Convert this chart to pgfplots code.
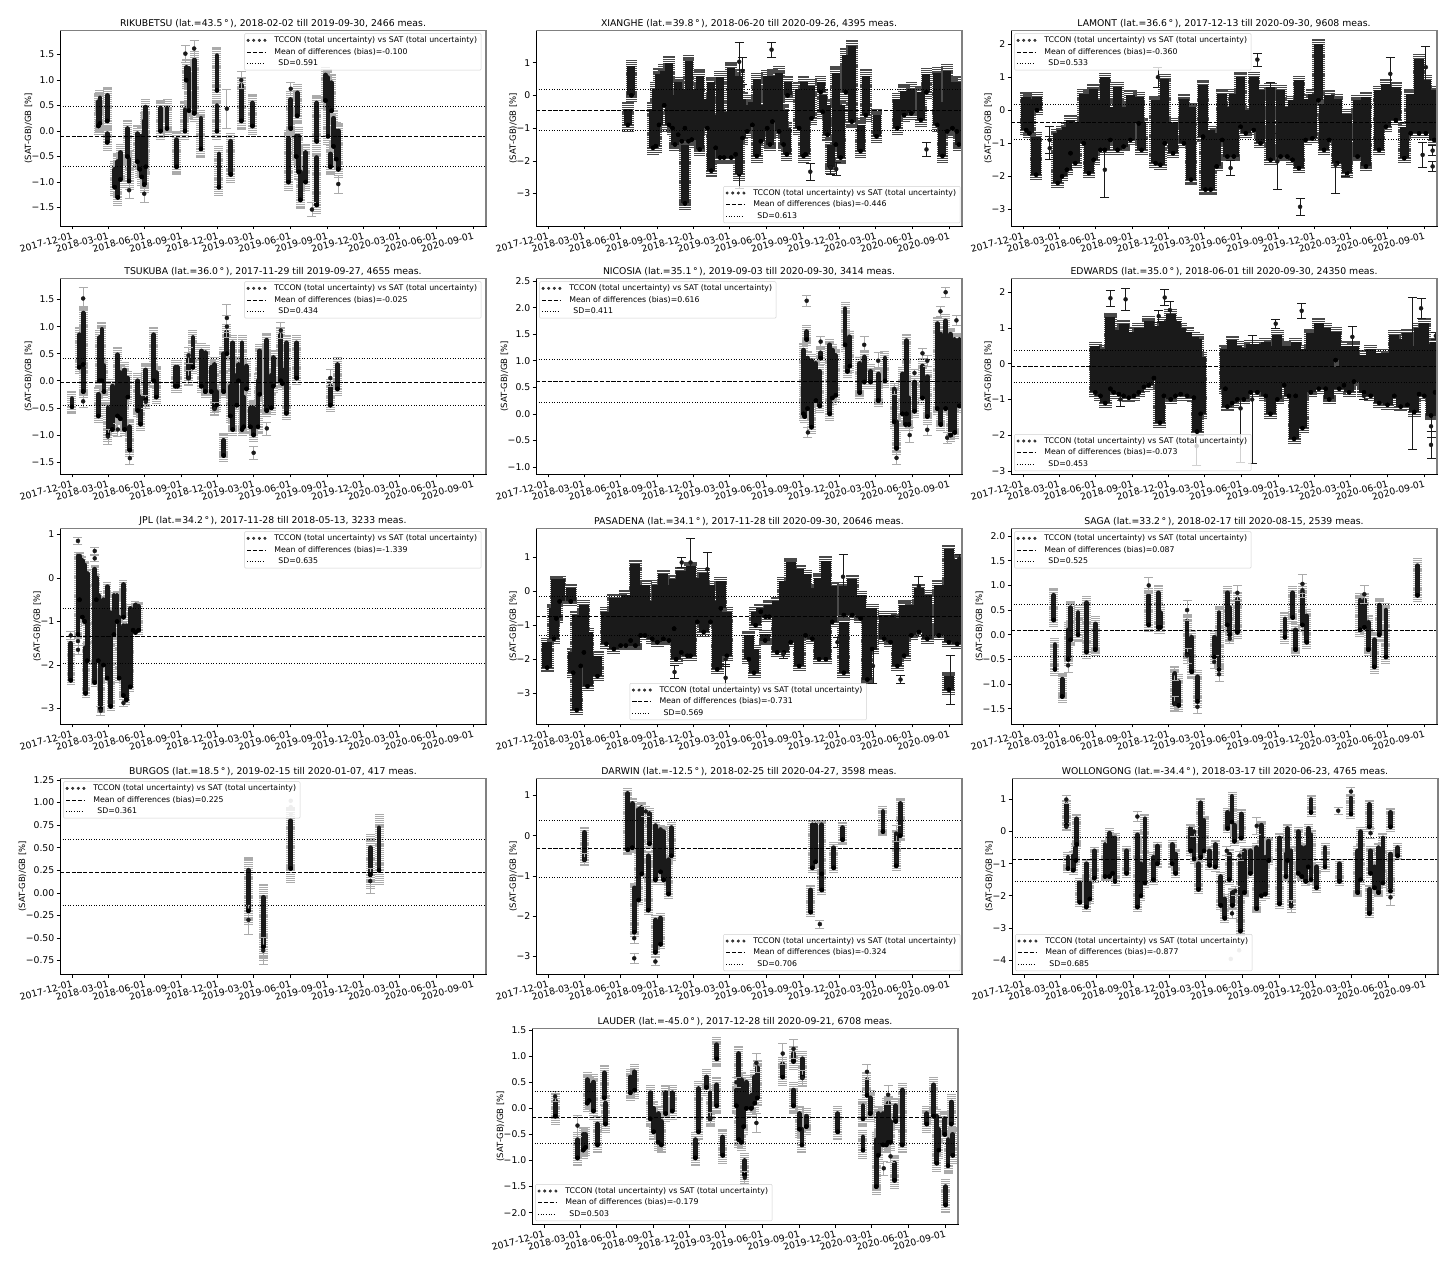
\documentclass[border=0pt]{standalone}
\usepackage{fontspec}
\setmainfont{DejaVu Sans}
\usepackage{pgfplots}
\usepackage{pgfplotstable}
\pgfplotsset{compat=1.18}
\definecolor{ink}{HTML}{1A1A1A}
\definecolor{capgray}{HTML}{ABABAB}
\definecolor{capdark}{HTML}{4A4A4A}

% x is days since 2017-12-01; cols: x lo hi of each dense column; pts: x y e of single points
\pgfplotstableread[row sep=\\]{x lo hi\\
66 .1 .58\\70 .15 .65\\88 .2 .7\\88 -.22 -.05\\107 -1.1 -.75\\115 -1.3 -.6\\121 -.95 -.42\\139 -.5 .05\\143 -.98 -.55\\164 -.6 -.05\\170 -.75 -.1\\175 -.9 -.1\\181 -1.05 .2\\185 -.7 .47\\222 0 .45\\238 .05 .45\\262 -.7 -.17\\283 0 .42\\286 1 1.25\\293 .4 1.23\\306 .35 1.4\\323 -.35 .25\\363 0 .5\\363 .8 1.48\\368 -1.1 -.45\\398 -.85 -.2\\424 .2 .9\\452 .1 .55\\542 -1 -.15\\548 .05 .62\\564 .3 .75\\562 -.5 -.1\\568 -.8 -.1\\572 -1.35 -.8\\585 -1 -.42\\613 -1.45 -.52\\613 -.2 .55\\635 .6 1.1\\641 -.1 1.05\\650 .4 .95\\647 -.7 -.45\\655 -.3 .25\\662 -.55 0\\667 -.75 0\\}\tRiku
\pgfplotstableread[row sep=\\]{x y e\\143 -1.16 .17\\181 -1.23 .17\\284 1.52 .17\\306 1.62 .17\\388 .44 .38\\424 1 .17\\548 .83 .12\\601 -1.54 .14\\667 -1.04 .18\\}\pRiku

\pgfplotstableread[row sep=\\]{x lo hi\\
200 -.9 -.4\\209 0 .9\\263 -1.6 -.4\\270 -1.55 .2\\278 -.9 .65\\291 -.3 .75\\303 -.9 1\\312 -1 0\\318 -1.5 -.8\\326 -1.2 .4\\335 -1.4 .2\\343 -3.3 -1.5\\343 -1 .2\\352 -1.4 1.05\\360 -1.35 .2\\380 -1.65 .6\\399 -1 -.1\\409 -2.3 .4\\420 -1.6 -.6\\431 -1.9 .55\\441 -1.9 -.5\\459 -1.9 .85\\470 -1.8 .6\\479 -2.4 .6\\487 -1.3 -.1\\499 -1.1 -.3\\512 -.9 -.2\\523 -1.85 .5\\533 -1.4 -.3\\549 -1 .6\\556 -1.5 .2\\562 -.8 .6\\579 -1.1 .7\\590 -1.5 -.45\\598 -1.8 -1\\600 0 .4\\629 -1 .2\\640 -1.85 .4\\645 -1.8 -.5\\660 -.7 .3\\683 .1 .4\\688 -.5 0\\700 -1.2 -.3\\708 -2.2 -1.5\\721 -1.5 .7\\733 -1.9 -.3\\746 .1 1.25\\761 -.8 1.5\\783 -1.7 -.9\\796 -.6 .6\\823 -1.25 -.6\\875 -1 -.1\\892 -.6 .15\\910 -.55 .2\\934 -.75 .1\\948 .1 .65\\975 -.9 .7\\988 -1.85 -.2\\1000 -1.1 .75\\1013 -1 .4\\1024 -1.1 .4\\1029 -1.5 -.5\\}\tXian
\pgfplotstableread[row sep=\\]{x y e\\479 1.03 .6\\487 .75 .4\\560 1.4 .22\\657 -2.33 .26\\708 -2.2 .2\\722 -2.25 .2\\948 -1.65 .22\\479 -2.35 .5\\}\pXian

\pgfplotstableread[row sep=\\]{x lo hi\\
8 -.6 .4\\16 -.7 .35\\33 -1.95 -.8\\35 0 .4\\87 -2.2 -.7\\98 -2 -.6\\110 -1.8 -.5\\119 -1.3 -.3\\131 -1.6 -.4\\152 -1 .5\\165 -1.9 .5\\177 -1.5 .65\\194 -1.2 .3\\205 -1.2 1\\219 -.9 .1\\237 -1.2 .7\\252 -1.1 .1\\269 -.9 .45\\290 -.4 .4\\297 -1.2 -.4\\332 -1.6 .3\\344 -1.65 .1\\355 -1 .95\\376 -1.3 -.4\\403 -1 .35\\421 -2.1 .1\\451 -.8 .75\\457 -2.4 -.8\\470 -2.4 -.6\\485 -1.7 -.7\\499 -.9 .5\\512 -1.4 .1\\528 -1.4 .5\\545 -.5 1\\558 -.7 0\\578 -.6 1\\595 -1 .6\\620 -1.5 .7\\645 -1.4 .6\\662 -1.4 .1\\675 -1.5 .3\\691 -1.75 .9\\708 -.9 .35\\725 -.85 .5\\740 .3 2\\754 -1.2 .2\\767 -.9 .45\\787 -1.6 .35\\812 -1.9 -.1\\838 -1.4 .3\\859 -1.7 .4\\892 -1.2 .6\\909 -.5 .8\\934 -.3 .7\\955 -1.45 -.5\\971 -.7 .5\\992 -.7 1.55\\1009 -.7 .9\\1030 -.9 .6\\}\tLamo
\pgfplotstableread[row sep=\\]{x y e\\67 -.9 .4\\67 -1.15 .35\\520 -1.75 .22\\694 -2.92 .26\\1001 -1.35 .38\\1026 -1.22 .15\\1026 -1.7 .15\\587 1.53 .2\\620 .58 .25\\920 1.1 .5\\808 -1.8 .2\\783 -1.65 .85\\205 -1.8 .82\\637 -1.55 .85\\338 1 .3\\1009 1.3 .62\\}\pLamo

\pgfplotstableread[row sep=\\]{x lo hi\\
0 -.48 -.33\\18 .25 .85\\28 -.2 .25\\28 .3 1.25\\66 -.65 -.25\\69 0 .8\\75 0 .95\\80 -.2 .28\\90 -1 -.5\\101 -.9 -.1\\114 -.65 .48\\121 -.7 .15\\132 -.9 .2\\140 -.3 .05\\145 -1.28 -.85\\165 -.55 0\\172 -.8 -.3\\185 -.35 .2\\205 0 .85\\211 -.3 .15\\259 -.1 .25\\264 -.1 .25\\292 .05 .4\\303 .25 .8\\324 -.1 .55\\334 -.2 .52\\349 -.2 .25\\357 -.5 .3\\362 -.45 -.2\\380 -1.38 -1.1\\380 -.2 .5\\388 .5 .9\\397 -.65 -.1\\403 -.9 .7\\413 -.45 .1\\417 0 .3\\426 -.9 .7\\430 -.85 -.3\\437 -.15 .27\\447 -.85 -.5\\455 -1 -.5\\466 -.85 0\\470 -.25 .55\\488 -.55 .75\\499 -.5 .1\\504 -.1 .43\\523 0 .85\\527 -.05 .2\\537 -.6 .7\\563 .05 .7\\647 -.45 -.1\\665 -.15 .3\\}\tTsuk
\pgfplotstableread[row sep=\\]{x y e\\28 1.52 .2\\28 -.38 .12\\145 -1.43 .12\\357 -.52 .12\\388 1.16 .26\\388 1 .2\\455 -1.33 .12\\488 -.88 .12\\523 .93 .14\\292 .47 .14\\292 .05 .14\\185 -.39 .12\\115 -.9 .12\\647 .05 .16\\90 -1.03 .14\\}\pTsuk

\pgfplotstableread[row sep=\\]{x lo hi\\
640 0 1.2\\643 -.05 .4\\648 1.4 1.55\\650 .1 1.05\\660 -.25 1\\671 .25 .95\\681 .15 .8\\683 1.05 1.15\\706 0 1.3\\712 .3 1.2\\721 .35 1.1\\744 1.3 1.98\\750 .8 1.35\\756 .9 1.45\\781 .4 .95\\792 .6 1.07\\808 .6 .8\\827 .25 .75\\844 .62 1.05\\867 -.15 .45\\873 -.65 -.15\\888 0 .75\\896 -.2 .6\\898 0 1.38\\904 -.2 .3\\918 .05 .6\\938 .3 .9\\950 -.05 .7\\975 .1 1.7\\984 -.2 1.5\\996 .1 1.75\\1009 -.4 1.5\\1019 -.35 1.4\\1030 .15 1.4\\}\tNico
\pgfplotstableread[row sep=\\]{x y e\\648 2.13 .1\\996 2.29 .1\\651 -.35 .1\\683 1.36 .1\\867 .47 .1\\873 -.83 .13\\906 -.4 .14\\918 .77 .07\\938 1.14 .1\\950 1 .1\\827 1 .15\\792 1.3 .15\\983 1.93 .1\\1023 1.76 .1\\950 -.3 .1\\1000 -.45 .1\\}\pNico

\pgfplotstableread[row sep=\\]{x lo hi\\
181 -.8 .5\\194 -.9 .3\\206 -1.1 .4\\219 -.7 1.3\\227 -.8 .8\\240 -.85 .95\\252 -.9 1.1\\265 -.95 .7\\278 -.9 .9\\290 -.8 1\\303 -.65 1\\315 -.6 1.2\\328 -.4 1.05\\343 -1.65 .8\\353 -.9 1.2\\370 -1 1.4\\382 -.9 1.2\\395 -.85 1\\411 -.9 .9\\428 -.95 .75\\436 -1.9 .7\\445 -1.4 .2\\507 -.7 .4\\512 -1.2 .4\\524 -1.1 .65\\537 -1 .5\\553 -1 .45\\570 -.8 .55\\587 -.8 .55\\608 -.9 .6\\620 -1.4 .5\\637 -1 .8\\654 -.6 .5\\666 -.9 .5\\679 -2.1 -.9\\683 -.9 .6\\700 -1.8 .4\\721 -.8 .85\\741 -.7 1.15\\758 -.7 1\\767 -1 .75\\783 .1 .9\\792 -.7 -.1\\804 -.6 .5\\817 -.8 .2\\829 -.5 .5\\854 -.8 .25\\871 -.9 .4\\892 -1.1 .3\\913 -1.15 .3\\930 -.9 .8\\946 -1.2 .7\\963 -1.15 .85\\980 -1.35 .5\\992 -.85 1\\1005 -.9 1.15\\1022 -1.45 .55\\1032 -.8 .6\\}\tEdwa
\pgfplotstableread[row sep=\\]{x y e\\219 1.83 .23\\257 1.8 .32\\355 1.85 .22\\340 1.33 .16\\368 1.5 .25\\633 1.12 .12\\698 1.48 .22\\545 -1.25 1.5\\574 -1 1.78\\975 -.27 2.12\\997 1.55 .27\\1022 -1.75 .3\\1022 -2.27 .38\\825 .75 .3\\1034 .78 .1\\244 -1 .2\\854 -.9 .1\\435 -2.3 .55\\}\pEdwa

\pgfplotstableread[row sep=\\]{x lo hi\\
-3 -2.35 -1.5\\15 -1.3 .5\\19 -.5 .5\\26 -.9 .4\\32 -1 .3\\34 -2.65 -1.6\\38 -1.9 .1\\57 -2.4 .2\\61 -.5 0\\66 -1.9 -.4\\72 -3 -1\\79 -2 -.5\\88 -2.3 -.2\\97 -2.95 -.8\\105 -1.3 -.4\\113 -1 -.4\\118 -2.3 -.9\\129 -.9 -.15\\129 -2.7 -1.1\\136 -2.8 -1.1\\146 -2.5 -.7\\153 -1.2 -.8\\159 -1.25 -.62\\167 -1.2 -.65\\}\tJplx
\pgfplotstableread[row sep=\\]{x y e\\-3 -1.32 .1\\15 .85 .08\\15 -1.45 .1\\15 -1.65 .1\\57 .62 .08\\57 .45 .08\\72 -3.05 .1\\129 -2.87 .07\\}\pJplx

\pgfplotstableread[row sep=\\]{x lo hi\\
-2 -2.25 -1.5\\15 -1.4 -.5\\21 -.8 .35\\29 -.3 .35\\57 -.3 .1\\63 -2.4 -1.8\\72 -3.5 -.7\\82 -2.2 -1\\90 -1.8 -.4\\99 -2.8 -1.2\\124 -2.5 -1.9\\146 -1.55 -.6\\165 -1.7 -.2\\182 -1.6 -.2\\195 -1.6 -.1\\207 -1.45 -.3\\219 -1.6 .8\\232 -1.3 -.2\\243 -1.3 .2\\261 -1.4 -.3\\274 -1.5 .2\\289 -1.4 .5\\303 -1.45 .2\\316 -1.1 .35\\321 -2 -1.1\\334 -1.8 .6\\349 -1.9 .4\\357 -1.9 .75\\374 -.9 .4\\390 -1.2 .55\\407 -.9 .2\\424 -2.3 -.3\\433 -.5 .3\\448 -1.9 -.6\\503 -2 -1.3\\516 -2.4 -1.7\\520 -1 -.6\\533 -.6 -.5\\545 -.75 -.6\\544 -1.45 -1.25\\554 -.75 -.4\\574 -1.8 -.3\\591 -1.8 .3\\608 -1.5 .85\\629 -2.2 .65\\645 -1.3 .5\\662 -1.4 .1\\679 -2 .4\\696 -2 .9\\712 -.9 .15\\741 -2.4 -.9\\741 -.7 .15\\762 -.7 .35\\783 -.8 -.1\\800 -2.6 -.5\\812 -1.7 -.5\\842 -1.4 -.7\\858 -1.5 -.7\\875 -2.2 -.8\\892 -1.9 -.4\\910 -1.3 -.4\\929 -1.2 .1\\950 -1.4 -.1\\979 -1.3 .2\\1004 -1.5 1.25\\1004 -2.9 -2.5\\1025 -1.55 .95\\}\tPasa
\pgfplotstableread[row sep=\\]{x y e\\317 -2.38 .2\\445 -2.55 .4\\445 -2 .2\\335 .85 .15\\399 .65 .5\\739 .43 .65\\814 -2.2 .5\\883 -2.6 .12\\725 -1.5 .15\\357 .85 .72\\589 -1.85 .13\\929 .15 .3\\1007 -2.6 .72\\1030 .95 .15\\}\pPasa

\pgfplotstableread[row sep=\\]{x lo hi\\
77 .3 .8\\80 -.7 -.2\\98 -1.25 -.9\\113 -.5 .1\\119 -.1 .55\\138 0 .45\\159 -.35 .65\\181 -.3 .22\\315 .2 .8\\339 .15 .85\\344 .15 .45\\380 -1.4 -.8\\390 -1.43 -.95\\411 -.4 .28\\423 -.75 -.05\\437 -1.35 -.85\\479 -.45 -.05\\491 -.7 .45\\512 .2 .85\\518 0 .55\\537 .05 .72\\656 -.05 .32\\676 .35 .85\\683 -.3 .1\\700 .2 .85\\711 -.15 .38\\844 .1 .7\\855 .15 .7\\865 -.3 .25\\880 -.65 -.1\\892 0 .6\\909 -.45 .5\\988 .8 1.4\\}\tSaga
\pgfplotstableread[row sep=\\]{x y e\\315 1 .16\\113 -.62 .14\\437 -1.46 .13\\380 -1.4 .15\\411 .5 .2\\411 -.42 .15\\479 -.55 .13\\491 -.8 .14\\537 .85 .15\\700 1.03 .2\\700 .9 .15\\855 .82 .18\\518 -.08 .1\\380 -.78 .15\\}\pSaga

\pgfplotstableread[row sep=\\]{x lo hi\\
442 -.2 .25\\479 -.6 -.05\\548 .27 .8\\747 .2 .5\\769 .25 .72\\}\tBurg
\pgfplotstableread[row sep=\\]{x y e\\442 -.3 .16\\479 -.64 .15\\747 .13 .14\\}\pBurg

\pgfplotstableread[row sep=\\]{x lo hi\\
91 -.6 .08\\200 -.35 1.05\\211 -.3 .8\\216 -2.4 -1.3\\227 -1.6 .65\\235 -.95 .7\\251 -1.85 -.5\\254 -.2 .55\\269 -2.9 -2.1\\269 -1.1 .25\\282 -2.7 -2.05\\282 -.9 .15\\290 -1.1 .1\\302 -1.45 -.6\\309 -.5 .2\\662 -.8 .27\\658 -1.9 -1.35\\670 -.65 .27\\686 -.95 .27\\686 -1.35 -.95\\716 -.8 -.3\\738 -.1 .2\\839 .1 .6\\872 -.75 0\\882 0 .8\\}\tDarw
\pgfplotstableread[row sep=\\]{x y e\\216 -3.05 .12\\216 -2.55 .12\\269 -3.13 .1\\681 -2.2 .1\\245 .6 .12\\91 -.6 .15\\872 .05 .2\\}\pDarw

\pgfplotstableread[row sep=\\]{x lo hi\\
106 .2 .85\\110 -1.15 -.8\\123 -1.2 -.75\\130 -.9 -.5\\132 -.4 .4\\140 -2.2 -1.6\\156 -2.35 -1\\165 -2.1 -1.6\\176 -1.45 -.6\\203 -1.4 -.4\\214 -1.4 -.05\\222 -1.3 -.2\\228 -1.55 -.2\\257 -1.3 -.6\\284 -2.35 -.1\\293 -2 -1\\303 -1.6 .4\\324 -1.5 -.8\\334 -1 -.45\\371 -1 -.4\\380 -1.3 -.7\\418 -.6 .1\\426 -.85 -.1\\437 -1.8 -1\\443 -.8 .9\\451 -.6 .35\\465 -1.05 -.6\\479 -1.1 -.4\\493 -2.3 -1.4\\503 -2.7 -2.1\\510 .1 .6\\514 -1.5 -.7\\521 .3 1.1\\522 -2.3 -1.9\\527 -.3 .2\\542 -3.1 -.9\\544 -.2 .55\\552 -1.9 -.6\\567 -1.3 -.6\\583 -2.4 -.5\\594 -2 .2\\604 -1.95 -.8\\613 -.9 -.3\\640 -2.25 -.2\\656 -1.4 -.7\\660 -.9 .1\\669 -2.3 -.6\\687 -1.3 0\\696 -1.4 -.5\\706 -1.55 -.5\\712 -1.1 .1\\719 .6 1\\719 -1.5 -.1\\733 -1.75 -1.1\\754 -1.1 -.5\\790 -1.55 -1\\819 .55 1.05\\836 -1.9 -.6\\843 -1.5 0\\865 -2.55 -1.8\\868 -1.3 -.6\\865 .15 .85\\878 -1.75 -1.1\\888 -1.9 -.5\\899 -1.6 -.2\\918 -1.85 -.7\\918 .15 .6\\936 -.75 -.5\\}\tWoll
\pgfplotstableread[row sep=\\]{x y e\\106 1 .12\\106 .15 .12\\284 .47 .15\\787 .65 .12\\819 1.25 .13\\918 -2.05 .24\\669 -2.33 .2\\521 -2.55 .15\\583 .18 .25\\426 0 .15\\868 -.05 .15\\508 -.6 .15\\540 -.75 .15\\529 -1.85 .15\\}\pWoll

\pgfplotstableread[row sep=\\]{x lo hi\\
28 -.15 .15\\84 -.95 -.6\\98 -.8 -.5\\104 -.75 -.5\\108 .1 .55\\113 .15 .45\\124 -.05 .5\\134 -.7 -.3\\151 .2 .68\\154 -.3 .1\\216 .3 .6\\227 .35 .7\\266 -.2 .3\\275 -.45 0\\286 -.65 -.1\\294 -.7 -.25\\305 -.1 .3\\321 -.05 .3\\379 -.95 -.6\\387 -.45 .38\\407 .4 .6\\416 -.2 .3\\433 .95 1.22\\433 .05 .45\\448 -.9 -.55\\482 .05 .35\\488 -.6 1.05\\494 -.65 .55\\500 -.35 .1\\503 -1.28 -1\\507 0 .5\\519 0 .25\\528 .1 .6\\534 .2 .78\\598 .6 .85\\625 .9 1.05\\625 .05 .35\\640 -.4 -.1\\646 -.7 -.4\\647 .6 .95\\657 -.35 -.15\\736 -.45 -.1\\799 -.2 .05\\799 -.8 -.55\\809 .25 .55\\817 -.1 .2\\832 -1.5 -.6\\837 -.9 -.1\\849 -.7 -.1\\857 -.7 .05\\862 -.65 .1\\868 -.65 -.25\\878 -1.38 -1.05\\881 -.25 .05\\897 -.7 .35\\959 -.3 -.1\\976 -.15 .45\\984 -1.05 -.15\\989 -.8 -.4\\1006 -1.85 -1.5\\1004 -.5 -.2\\1012 -1.1 -.6\\1020 -.3 .12\\1024 -.9 -.5\\}\tLaud
\pgfplotstableread[row sep=\\]{x y e\\28 .23 .1\\84 -.33 .2\\532 -.28 .18\\532 .87 .18\\482 .5 .1\\503 -1.33 .12\\598 1.05 .2\\625 1.14 .18\\647 .58 .15\\809 .7 .14\\862 .26 .18\\851 -1.15 .14\\868 -.92 .12\\416 -.2 .12\\}\pLaud

\pgfplotsset{
  panel/.style={
    scale only axis,width=426pt,height=195.5pt,
    xmin=-30,xmax=1037,clip=true,
    axis line style={black,line width=.6pt},
    tick style={black,line width=.6pt},
    tick align=outside,major tick length=3.5pt,
    xtick pos=bottom,ytick pos=left,
    xtick={0,90,182,274,365,455,547,639,730,821,913,1005},
    xticklabels={2017-12-01,2018-03-01,2018-06-01,2018-09-01,2018-12-01,2019-03-01,2019-06-01,2019-09-01,2019-12-01,2020-03-01,2020-06-01,2020-09-01},
    xticklabel style={rotate=15,anchor=north east,inner sep=1pt,yshift=-1pt,font=\fontsize{9.3}{10}\selectfont},
    yticklabel style={inner sep=2pt,font=\fontsize{9.3}{10}\selectfont},
    ylabel={(SAT-GB)/GB [\%]},
    ylabel style={font=\fontsize{8.5}{10}\selectfont,yshift=-6pt},
    title style={font=\fontsize{9.3}{10}\selectfont,inner sep=1pt,yshift=-4pt},
    legend cell align=left,
    legend style={font=\fontsize{7.8}{9}\selectfont,fill=white,fill opacity=.8,text opacity=1,draw=black!18,
      rounded corners=1pt,row sep=.2pt,inner xsep=2pt,inner ysep=1pt},
    after end axis/.code={\draw[gray,line width=1.3pt] (rel axis cs:0,1)--(rel axis cs:1,1)--(rel axis cs:1,0);},
  },
  ur/.style={legend style={at={(.989,.985)},anchor=north east}},
  ul/.style={legend style={at={(.008,.985)},anchor=north west}},
  lr/.style={legend style={at={(.996,.015)},anchor=south east}},
  ll/.style={legend style={at={(.008,.015)},anchor=south west}},
  legdots/.style={legend image code/.code={\path (24pt,0);\foreach \k in {0,...,3}{\fill[ink] (\k*5.6pt,0) circle (1.3pt);}}},
  legdash/.style={legend image code/.code={\path (24pt,0);\draw[black,line width=.9pt,dash pattern=on 4.2pt off 1.6pt] (-1pt,0)--(17pt,0);}},
  legdot/.style={legend image code/.code={\path (24pt,0);\draw[black,line width=.9pt,dash pattern=on 1pt off 1.6pt] (-1pt,0)--(17pt,0);}},
  thincol/.style={line width=4.8pt,line cap=round},
  widecol/.style={line width=#1,line cap=butt},
}

% caps of the error bars of a column: #1 columns, #2 half length of an error bar, #3 colour, #4 cap width
\newcommand{\caps}[4]{
  \addplot[forget plot,only marks,mark=none,error bars/.cd,y dir=both,y explicit,error mark=none,
    error bar style={draw=#3,line width=#4,dash pattern=on 1.1pt off .8pt}]
    table[x=x,y=lo,y error plus expr=\thisrow{hi}-\thisrow{lo}+#2,y error minus expr=#2]{#1};
}
% #1 columns, #2 points, #3 colour of the bars of the single points, #4 style of the column
\newcommand{\core}[4]{
  \addplot[forget plot,only marks,mark=none,error bars/.cd,y dir=plus,y explicit,error mark=none,
    error bar style={draw=ink,#4}]
    table[x=x,y=lo,y error plus expr=\thisrow{hi}-\thisrow{lo}]{#1};
  \addplot[forget plot,only marks,mark=*,mark size=2pt,color=ink,error bars/.cd,y dir=both,y explicit,
    error bar style={draw=#3,line width=.8pt},error mark options={draw=#3,rotate=90,mark size=4.5pt,line width=.7pt}]
    table[x=x,y=y,y error=e]{#2};
}
% #1 bias, #2 upper, #3 lower, #4 bias label, #5 SD label
\newcommand{\stats}[5]{
  \addplot[forget plot,black,line width=1pt,dash pattern=on 4.2pt off 1.6pt] coordinates {(-30,#1) (1037,#1)};
  \addplot[forget plot,black,line width=1pt,dash pattern=on 1pt off 1.6pt] coordinates {(-30,#2) (1037,#2)};
  \addplot[forget plot,black,line width=1pt,dash pattern=on 1pt off 1.6pt] coordinates {(-30,#3) (1037,#3)};
  \addlegendimage{legdots}\addlegendentry{TCCON (total uncertainty) vs SAT (total uncertainty)}
  \addlegendimage{legdash}\addlegendentry{Mean of differences (bias)=#4}
  \addlegendimage{legdot}\addlegendentry{\hspace{4pt}SD=#5}
}

\begin{document}
\begin{tikzpicture}
\useasboundingbox (0,0) rectangle (1453pt,1267pt);

\begin{axis}[panel,ur,at={(60pt,1041pt)},ymin=-1.863,ymax=1.974,
  ytick={-1.5,-1,-.5,0,.5,1,1.5},yticklabels={−1.5,−1.0,−0.5,0.0,0.5,1.0,1.5},
  title={RIKUBETSU (lat.=43.5\,°\,), 2018-02-02 till 2019-09-30, 2466 meas.}]
\caps{\tRiku}{.17}{capgray}{9pt}\core{\tRiku}{\pRiku}{capgray}{thincol}
\stats{-.1}{.491}{-.691}{-0.100}{0.591}
\end{axis}

\begin{axis}[panel,lr,at={(536pt,1041pt)},ymin=-3.99,ymax=1.986,
  ytick={-3,-2,-1,0,1},yticklabels={−3,−2,−1,0,1},
  title={XIANGHE (lat.=39.8\,°\,), 2018-06-20 till 2020-09-26, 4395 meas.}]
\caps{\tXian}{.2}{capdark}{11.5pt}\core{\tXian}{\pXian}{ink}{widecol=8pt}
\stats{-.446}{.167}{-1.059}{-0.446}{0.613}
\end{axis}

\begin{axis}[panel,ul,at={(1011pt,1041pt)},ymin=-3.5,ymax=2.41,
  ytick={-3,-2,-1,0,1,2},yticklabels={−3,−2,−1,0,1,2},
  title={LAMONT (lat.=36.6\,°\,), 2017-12-13 till 2020-09-30, 9608 meas.}]
\caps{\tLamo}{.15}{capdark}{12.5pt}\core{\tLamo}{\pLamo}{ink}{widecol=9.5pt}
\stats{-.36}{.173}{-.893}{-0.360}{0.533}
\end{axis}

\begin{axis}[panel,ur,at={(60pt,793pt)},ymin=-1.722,ymax=1.889,
  ytick={-1.5,-1,-.5,0,.5,1,1.5},yticklabels={−1.5,−1.0,−0.5,0.0,0.5,1.0,1.5},
  title={TSUKUBA (lat.=36.0\,°\,), 2017-11-29 till 2019-09-27, 4655 meas.}]
\caps{\tTsuk}{.14}{capgray}{9pt}\core{\tTsuk}{\pTsuk}{capgray}{thincol}
\stats{-.025}{.409}{-.459}{-0.025}{0.434}
\end{axis}

\begin{axis}[panel,ul,at={(536pt,793pt)},ymin=-1.133,ymax=2.549,
  ytick={-1,-.5,0,.5,1,1.5,2,2.5},yticklabels={−1.0,−0.5,0.0,0.5,1.0,1.5,2.0,2.5},
  title={NICOSIA (lat.=35.1\,°\,), 2019-09-03 till 2020-09-30, 3414 meas.}]
\caps{\tNico}{.13}{capgray}{9pt}\core{\tNico}{\pNico}{capgray}{thincol}
\stats{.616}{1.027}{.205}{0.616}{0.411}
\end{axis}

\begin{axis}[panel,ll,at={(1011pt,793pt)},ymin=-3.084,ymax=2.383,
  ytick={-3,-2,-1,0,1,2},yticklabels={−3,−2,−1,0,1,2},
  title={EDWARDS (lat.=35.0\,°\,), 2018-06-01 till 2020-09-30, 24350 meas.}]
\caps{\tEdwa}{.13}{capdark}{13pt}\core{\tEdwa}{\pEdwa}{ink}{widecol=10pt}
\stats{-.073}{.38}{-.526}{-0.073}{0.453}
\end{axis}

\begin{axis}[panel,ur,at={(60pt,543pt)},ymin=-3.355,ymax=1.136,
  ytick={-3,-2,-1,0,1},yticklabels={−3,−2,−1,0,1},
  title={JPL (lat.=34.2\,°\,), 2017-11-28 till 2018-05-13, 3233 meas.}]
\caps{\tJplx}{.1}{capgray}{8pt}\core{\tJplx}{\pJplx}{capgray}{thincol}
\stats{-1.339}{-.704}{-1.974}{-1.339}{0.635}
\end{axis}

\begin{axis}[panel,legend style={at={(.22,.02)},anchor=south west},at={(536pt,543pt)},ymin=-3.911,ymax=1.852,
  ytick={-3,-2,-1,0,1},yticklabels={−3,−2,−1,0,1},
  title={PASADENA (lat.=34.1\,°\,), 2017-11-28 till 2020-09-30, 20646 meas.}]
\caps{\tPasa}{.13}{capdark}{13pt}\core{\tPasa}{\pPasa}{ink}{widecol=10pt}
\stats{-.731}{-.162}{-1.3}{-0.731}{0.569}
\end{axis}

\begin{axis}[panel,ul,at={(1011pt,543pt)},ymin=-1.808,ymax=2.153,
  ytick={-1.5,-1,-.5,0,.5,1,1.5,2},yticklabels={−1.5,−1.0,−0.5,0.0,0.5,1.0,1.5,2.0},
  title={SAGA (lat.=33.2\,°\,), 2018-02-17 till 2020-08-15, 2539 meas.}]
\caps{\tSaga}{.15}{capgray}{9pt}\core{\tSaga}{\pSaga}{capgray}{thincol}
\stats{.087}{.612}{-.438}{0.087}{0.525}
\end{axis}

\begin{axis}[panel,ul,at={(60pt,293pt)},ymin=-.9,ymax=1.267,
  ytick={-.75,-.5,-.25,0,.25,.5,.75,1,1.25},yticklabels={−0.75,−0.50,−0.25,0.00,0.25,0.50,0.75,1.00,1.25},
  title={BURGOS (lat.=18.5\,°\,), 2019-02-15 till 2020-01-07, 417 meas.}]
\addplot[forget plot,only marks,mark=*,mark size=2pt,color=capgray] coordinates {(548,.95) (548,.87) (548,1.02)};
\caps{\tBurg}{.15}{capgray}{9pt}\core{\tBurg}{\pBurg}{capgray}{thincol}
\stats{.225}{.586}{-.136}{0.225}{0.361}
\end{axis}

\begin{axis}[panel,lr,at={(536pt,293pt)},ymin=-3.44,ymax=1.42,
  ytick={-3,-2,-1,0,1},yticklabels={−3,−2,−1,0,1},
  title={DARWIN (lat.=-12.5\,°\,), 2018-02-25 till 2020-04-27, 3598 meas.}]
\caps{\tDarw}{.13}{capgray}{9pt}\core{\tDarw}{\pDarw}{capgray}{thincol}
\stats{-.324}{.382}{-1.03}{-0.324}{0.706}
\end{axis}

\begin{axis}[panel,ll,at={(1012pt,293pt)},ymin=-4.44,ymax=1.656,
  ytick={-4,-3,-2,-1,0,1},yticklabels={−4,−3,−2,−1,0,1},
  title={WOLLONGONG (lat.=-34.4\,°\,), 2018-03-17 till 2020-06-23, 4765 meas.}]
\addplot[forget plot,only marks,mark=*,mark size=2pt,color=capgray] coordinates {(518,-3.97) (539,-3.7)};
\caps{\tWoll}{.15}{capgray}{9pt}\core{\tWoll}{\pWoll}{capgray}{thincol}
\stats{-.877}{-.192}{-1.562}{-0.877}{0.685}
\end{axis}

\begin{axis}[panel,ll,at={(532pt,43pt)},ymin=-2.217,ymax=1.53,
  ytick={-2,-1.5,-1,-.5,0,.5,1,1.5},yticklabels={−2.0,−1.5,−1.0,−0.5,0.0,0.5,1.0,1.5},
  title={LAUDER (lat.=-45.0\,°\,), 2017-12-28 till 2020-09-21, 6708 meas.}]
\caps{\tLaud}{.15}{capgray}{9pt}\core{\tLaud}{\pLaud}{capgray}{thincol}
\stats{-.179}{.324}{-.682}{-0.179}{0.503}
\end{axis}
\end{tikzpicture}
\end{document}
